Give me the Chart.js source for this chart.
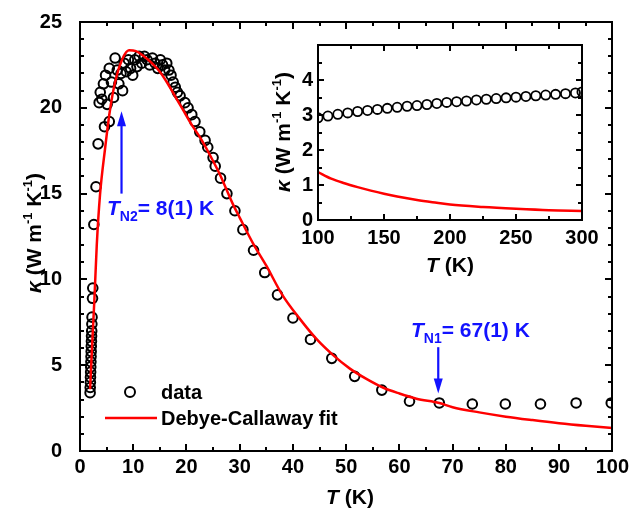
<!DOCTYPE html>
<html>
<head>
<meta charset="utf-8">
<script src="https://cdn.jsdelivr.net/npm/chart.js@4.4.1/dist/chart.umd.min.js"></script>
<style>
  html, body { margin: 0; padding: 0; background: #fff; }
  #wrap { position: relative; width: 633px; height: 511px; overflow: hidden; }
  #mainChart { position: absolute; left: 0; top: 0; width: 633px; height: 511px; }
  #insetChart { position: absolute; left: 250px; top: 25px; width: 370px; height: 260px; }
  #overlay { position: absolute; left: 0; top: 0; width: 633px; height: 511px; pointer-events: none; }
  .bar { position: absolute; background: #000; pointer-events: none; }
</style>
</head>
<body>
<div id="wrap">
  <canvas id="mainChart" width="633" height="511"></canvas>
  <canvas id="insetChart" width="370" height="260"></canvas>
  <canvas id="overlay" width="633" height="511"></canvas>
</div>
<script>
// measured thermal conductivity, 0-100 K
const dataT = [1.9, 1.92, 1.95, 1.97, 2.0, 2.02, 2.05, 2.07, 2.1, 2.12, 2.15, 2.17, 2.2, 2.23, 2.26, 2.35, 2.4,
  2.6, 3.0, 3.4, 3.6, 3.8, 4.1, 4.4, 4.6, 4.8, 5.1, 5.5, 5.5, 5.9, 6.3, 6.6, 7.0, 7.3, 7.7, 8.0, 8.3, 8.7,
  9.1, 9.5, 9.9, 10.3, 10.7, 11.1, 11.6, 12.1, 12.6, 13.1, 13.6, 14.1, 14.6, 15.1, 15.5, 15.9, 16.3, 16.7,
  17.1, 17.5, 17.9, 18.3, 18.8, 19.7, 20.3, 21.0, 21.6, 22.5, 23.5, 24.0, 25.0, 25.4, 26.4, 27.6, 29.1,
  30.6, 32.6, 34.7, 37.1, 40.0, 43.3, 47.3, 51.6, 56.7, 61.9, 67.5, 73.7, 79.9, 86.5, 93.2, 99.8];
const dataK = [3.4, 3.7, 4.0, 4.3, 4.6, 4.9, 5.2, 5.5, 5.8, 6.1, 6.4, 6.7, 7.0, 7.4, 7.8, 8.9, 9.5,
  13.2, 15.4, 17.9, 20.3, 20.9, 20.5, 21.4, 18.9, 21.9, 20.2, 19.2, 22.3, 21.5, 20.6, 22.9, 22.2, 21.4, 22.0, 21.0, 22.6, 22.1,
  22.8, 22.3, 21.9, 22.8, 22.4, 23.0, 22.6, 23.0, 22.8, 22.5, 22.9, 22.6, 22.3, 22.8, 22.5, 22.2, 22.6, 22.2,
  21.9, 21.5, 21.2, 20.9, 20.7, 20.3, 20.0, 19.6, 19.2, 18.6, 18.1, 17.7, 17.1, 16.6, 15.9, 15.0, 14.0,
  12.9, 11.7, 10.4, 9.1, 7.75, 6.5, 5.4, 4.35, 3.55, 2.9, 2.8, 2.74, 2.74, 2.74, 2.8, 2.8];

// Debye-Callaway fit, 0-100 K
const fitT = [1.9, 2.3, 2.7, 3.15, 3.75, 4.7, 5.6, 6.6, 7.9, 9.2, 10.5, 12.0, 13.5, 15.0, 16.5, 18.0, 19.5,
  21.0, 22.5, 25.0, 26.3, 28.7, 30.0, 32.5, 35.0, 38.0, 41.3, 44.5, 47.5, 50.7, 53.8, 56.9, 60.0, 63.2,
  67.5, 70.0, 75.0, 80.0, 85.0, 90.0, 95.0, 100.0];
const fitK = [3.6, 6.3, 8.8, 12.0, 14.9, 17.6, 19.8, 21.5, 22.8, 23.35, 23.3, 23.0, 22.6, 22.1, 21.4, 20.6, 19.8,
  19.0, 18.3, 16.9, 16.1, 14.4, 13.6, 12.1, 10.8, 9.1, 7.7, 6.5, 5.6, 4.8, 4.2, 3.7, 3.35, 3.05,
  2.8, 2.55, 2.25, 2.0, 1.8, 1.62, 1.47, 1.34];

// inset: 100-300 K
const insetT = [100, 107.5, 115, 122.5, 130, 137.5, 145, 152.5, 160, 167.5, 175, 182.5, 190, 197.5, 205,
  212.5, 220, 227.5, 235, 242.5, 250, 257.5, 265, 272.5, 280, 287.5, 295, 300];
const insetK = [2.92, 2.97, 3.02, 3.06, 3.10, 3.13, 3.16, 3.19, 3.22, 3.25, 3.27, 3.30, 3.33, 3.36, 3.38,
  3.40, 3.43, 3.45, 3.47, 3.49, 3.51, 3.53, 3.55, 3.57, 3.59, 3.61, 3.63, 3.66];
const insetFitT = [100, 110, 120, 130, 140, 150, 160, 175, 190, 200, 225, 250, 275, 300];
const insetFitK = [1.37, 1.18, 1.05, 0.94, 0.84, 0.75, 0.67, 0.57, 0.49, 0.44, 0.37, 0.32, 0.28, 0.26];

// tick labels
const mainXTicks = [0, 10, 20, 30, 40, 50, 60, 70, 80, 90, 100];
const mainYTicks = [0, 5, 10, 15, 20, 25];
const insetXTicks = [100, 150, 200, 250, 300];
const insetYTicks = [0, 1, 2, 3, 4];

const FONT = '"Liberation Sans", Arial, Helvetica, sans-serif';
const BLUE = '#1212ff';
const RED = '#ff0000';

function toPoints(xs, ys) {
  return xs.map((x, i) => ({ x: x, y: ys[i] }));
}

// draw a row of text pieces with mixed fonts (sub/superscripts)
function drawRuns(ctx, runs, x, y, align) {
  let w = 0;
  runs.forEach(r => { ctx.font = r.font; w += ctx.measureText(r.text).width; });
  let cx = align === 'center' ? x - w / 2 : x;
  ctx.textBaseline = 'alphabetic';
  ctx.textAlign = 'left';
  runs.forEach(r => {
    ctx.font = r.font;
    ctx.fillText(r.text, cx, y + (r.dy || 0));
    cx += ctx.measureText(r.text).width;
  });
}

function kappaTitle(size) {
  const b = 'bold ' + size + 'px ' + FONT;
  const s = 'bold ' + Math.round(size * 0.6) + 'px ' + FONT;
  return [
    { text: 'κ', font: 'italic bold ' + size + 'px ' + FONT },
    { text: ' (W m', font: b },
    { text: '-1', font: s, dy: -size * 0.42 },
    { text: ' K', font: b },
    { text: '-1', font: s, dy: -size * 0.42 },
    { text: ')', font: b }
  ];
}

function tTitle(size) {
  return [
    { text: 'T', font: 'italic bold ' + size + 'px ' + FONT },
    { text: ' (K)', font: 'bold ' + size + 'px ' + FONT }
  ];
}

function arrow(ctx, x, y0, y1, color) {
  const dir = y1 > y0 ? 1 : -1;
  ctx.fillStyle = color;
  const top = Math.min(y0, y1 - dir * 12), bot = Math.max(y0, y1 - dir * 12);
  ctx.fillRect(x - 1.1, top, 2.2, bot - top);
  ctx.beginPath();
  ctx.moveTo(x, y1);
  ctx.lineTo(x - 4.5, y1 - dir * 15);
  ctx.lineTo(x + 4.5, y1 - dir * 15);
  ctx.closePath();
  ctx.fill();
}

// frame box and inward ticks as small black blocks laid over the charts
const wrap = document.getElementById('wrap');
function bar(left, top, w, h) {
  const d = document.createElement('div');
  d.className = 'bar';
  d.style.left = left + 'px';
  d.style.top = top + 'px';
  d.style.width = w + 'px';
  d.style.height = h + 'px';
  wrap.appendChild(d);
}

function drawFrame(chart, cfg, ox, oy) {
  const xs = chart.scales.x, ys = chart.scales.y;
  const L = Math.round(xs.left + ox), R = Math.round(xs.right + ox);
  const T = Math.round(ys.top + oy), B = Math.round(ys.bottom + oy);
  bar(L - 1, T - 1, R - L + 2, 2);
  bar(L - 1, B - 1, R - L + 2, 2);
  bar(L - 1, T - 1, 2, B - T + 2);
  bar(R - 1, T - 1, 2, B - T + 2);
  const nx = Math.round((cfg.xMax - cfg.xMin) / cfg.xMinor);
  for (let i = 0; i <= nx; i++) {
    const px = Math.round(xs.getPixelForValue(cfg.xMin + i * cfg.xMinor) + ox);
    const len = (i % cfg.xEvery === 0) ? cfg.major : cfg.minor;
    bar(px - 1, B - len, 2, len);
    bar(px - 1, T, 2, len);
  }
  const ny = Math.round((cfg.yMax - cfg.yMin) / cfg.yMinor);
  for (let i = 0; i <= ny; i++) {
    const py = Math.round(ys.getPixelForValue(cfg.yMin + i * cfg.yMinor) + oy);
    const len = (i % cfg.yEvery === 0) ? cfg.major : cfg.minor;
    bar(L, py - 1, len, 2);
    bar(R - len, py - 1, len, 2);
  }
}

function scaleOpts(min, max, tickList, padding, isX, size, showLabels) {
  return {
    type: 'linear',
    min: min,
    max: max,
    grid: { display: false, drawTicks: false, tickLength: 0 },
    border: { display: false },
    ticks: {
      display: showLabels,
      color: '#000',
      font: { family: FONT, size: 20, weight: 'bold' },
      padding: padding,
      autoSkip: false,
      maxRotation: 0
    },
    afterBuildTicks: s => { s.ticks = tickList.map(v => ({ value: v })); },
    afterFit: s => { if (isX) s.height = size; else s.width = size; }
  };
}

function lineSet(label, xs, ys) {
  return {
    label: label,
    data: toPoints(xs, ys),
    showLine: true,
    borderColor: RED,
    borderWidth: 2.5,
    pointRadius: 0,
    cubicInterpolationMode: 'monotone',
    order: 0
  };
}

function circleSet(label, xs, ys, r, bw) {
  return {
    label: label,
    data: toPoints(xs, ys),
    pointRadius: r,
    borderWidth: bw,
    borderColor: '#000',
    backgroundColor: 'rgba(0,0,0,0)',
    order: 1
  };
}

// ---- main chart ----
const mainChart = new Chart(document.getElementById('mainChart'), {
  type: 'scatter',
  data: {
    datasets: [
      lineSet('Debye-Callaway fit', fitT, fitK),
      circleSet('data', dataT, dataK, 4.8, 2)
    ]
  },
  options: {
    responsive: false,
    animation: false,
    layout: { padding: { left: 0, right: 20, top: 22, bottom: 0 } },
    plugins: { legend: { display: false }, tooltip: { enabled: false } },
    scales: {
      x: scaleOpts(0, 100, mainXTicks, 4, true, 60, true),
      y: scaleOpts(0, 25, mainYTicks, 0, false, 80, false)
    }
  }
});

// ---- inset chart ----
const insetChart = new Chart(document.getElementById('insetChart'), {
  type: 'scatter',
  data: {
    datasets: [
      lineSet('fit', insetFitT, insetFitK),
      circleSet('data', insetT, insetK, 4.6, 1.8)
    ]
  },
  options: {
    responsive: false,
    animation: false,
    layout: { padding: { left: 0, right: 38, top: 20, bottom: 0 } },
    plugins: { legend: { display: false }, tooltip: { enabled: false } },
    scales: {
      x: scaleOpts(100, 300, insetXTicks, 6, true, 65, true),
      y: scaleOpts(0, 5, insetYTicks, 5, false, 68, true)
    }
  }
});

// ---- frames ----
drawFrame(mainChart, { xMin: 0, xMax: 100, xMinor: 5, xEvery: 2, yMin: 0, yMax: 25, yMinor: 1, yEvery: 5,
  major: 7, minor: 4 }, 0, 0);
drawFrame(insetChart, { xMin: 100, xMax: 300, xMinor: 25, xEvery: 2, yMin: 0, yMax: 5, yMinor: 0.5, yEvery: 2,
  major: 6, minor: 4 }, 250, 25);

// ---- titles, legend and annotations ----
const ctx = document.getElementById('overlay').getContext('2d');
const x = mainChart.scales.x, y = mainChart.scales.y;

// main y tick labels
ctx.fillStyle = '#000';
ctx.font = 'bold 20px ' + FONT;
ctx.textAlign = 'right';
ctx.textBaseline = 'middle';
mainYTicks.forEach(v => ctx.fillText(String(v), 62, y.getPixelForValue(v)));

// main axis titles
drawRuns(ctx, tTitle(21), 350, 504, 'center');
ctx.save();
ctx.translate(34, 233);
ctx.rotate(-Math.PI / 2);
drawRuns(ctx, kappaTitle(21), 0, 7, 'center');
ctx.restore();

// legend
ctx.strokeStyle = '#000';
ctx.lineWidth = 2;
ctx.beginPath();
ctx.arc(130, 392, 5, 0, Math.PI * 2);
ctx.stroke();
ctx.fillStyle = RED;
ctx.fillRect(105, 416.75, 52, 2.5);
ctx.fillStyle = '#000';
drawRuns(ctx, [{ text: 'data', font: 'bold 20px ' + FONT }], 161, 399, 'left');
drawRuns(ctx, [{ text: 'Debye-Callaway fit', font: 'bold 20px ' + FONT }], 161, 425, 'left');

// transition markers
const subFont = 'bold 14px ' + FONT;
const bigFont = 'bold 21px ' + FONT;
const itFont = 'italic bold 21px ' + FONT;
arrow(ctx, x.getPixelForValue(7.8), y.getPixelForValue(15.0), y.getPixelForValue(19.8), BLUE);
ctx.fillStyle = BLUE;
drawRuns(ctx, [
  { text: 'T', font: itFont }, { text: 'N2', font: subFont, dy: 6 }, { text: '= 8(1) K', font: bigFont }
], 107, 215, 'left');

arrow(ctx, x.getPixelForValue(67.3), y.getPixelForValue(6.05), y.getPixelForValue(3.35), BLUE);
ctx.fillStyle = BLUE;
drawRuns(ctx, [
  { text: 'T', font: itFont }, { text: 'N1', font: subFont, dy: 6 }, { text: '= 67(1) K', font: bigFont }
], 411, 337, 'left');

// inset titles (inset canvas sits at 250, 25)
ctx.fillStyle = '#000';
drawRuns(ctx, tTitle(21), 450, 272, 'center');
ctx.save();
ctx.translate(283, 132);
ctx.rotate(-Math.PI / 2);
drawRuns(ctx, kappaTitle(21), 0, 7, 'center');
ctx.restore();
</script>
</body>
</html>
